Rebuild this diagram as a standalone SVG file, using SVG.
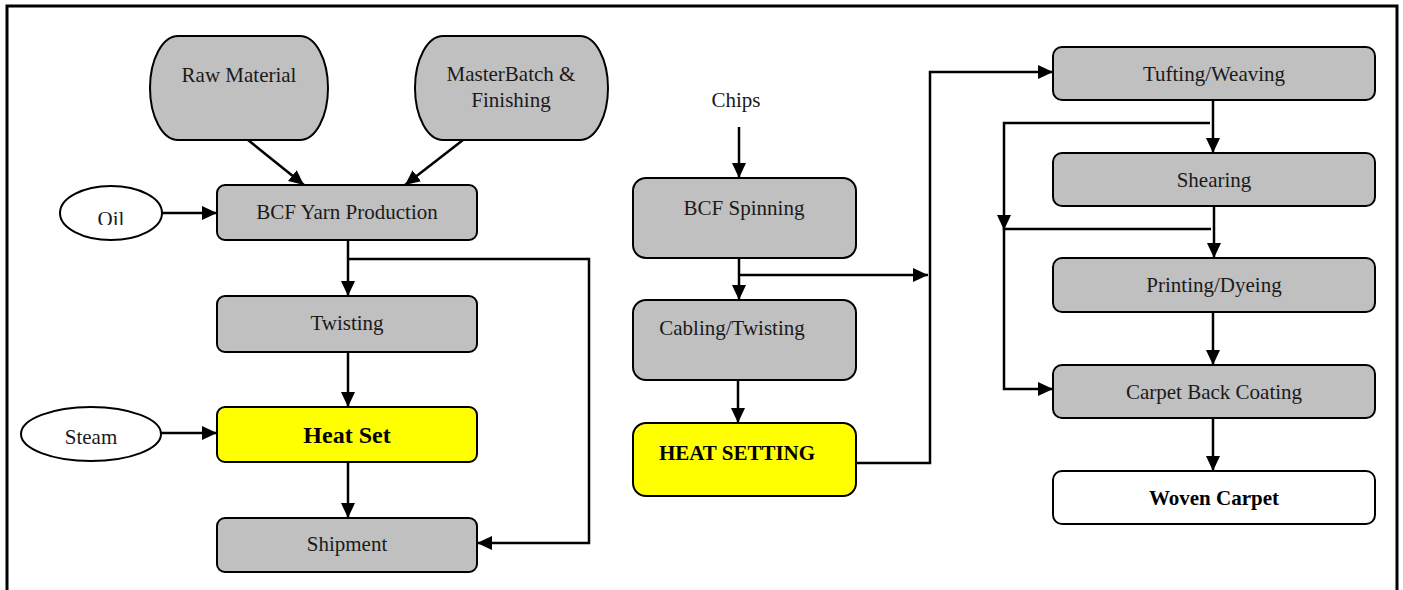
<svg xmlns="http://www.w3.org/2000/svg" width="1403" height="590" viewBox="0 0 1403 590">
<style>
.box{fill:#c0c0c0;stroke:#000;stroke-width:2}
.hl{fill:#ffff00;stroke:#000;stroke-width:2}
.wh{fill:#fff;stroke:#000;stroke-width:2}
.t{font-family:"Liberation Serif","Times New Roman",serif;font-size:21px;fill:#1a1a1a;text-anchor:middle}
.b{font-weight:bold;fill:#000}
.c{fill:none;stroke:#000;stroke-width:2.5}
</style>
<defs>
<marker id="a" markerUnits="userSpaceOnUse" markerWidth="15" markerHeight="14" refX="15" refY="7" orient="auto">
<path d="M0,0 L15,7 L0,14 z" fill="#000"/>
</marker>
<clipPath id="oilclip"><rect x="60" y="186" width="104" height="39"/></clipPath>
</defs>
<rect width="1403" height="590" fill="#fff"/>
<path d="M7,592 V6 H1397 V592" fill="none" stroke="#000" stroke-width="3"/>

<g id="connectors">
<path class="c" d="M248,140 L304,185" marker-end="url(#a)"/>
<path class="c" d="M463,140 L405,185" marker-end="url(#a)"/>
<path class="c" d="M162,213 H217" marker-end="url(#a)"/>
<path class="c" d="M348,240 V296" marker-end="url(#a)"/>
<path class="c" d="M348,259 H589 V543 H477" marker-end="url(#a)"/>
<path class="c" d="M348,352 V407" marker-end="url(#a)"/>
<path class="c" d="M161,433 H217" marker-end="url(#a)"/>
<path class="c" d="M348,462 V518" marker-end="url(#a)"/>
<path class="c" d="M739,127 V178" marker-end="url(#a)"/>
<path class="c" d="M739,258 V300" marker-end="url(#a)"/>
<path class="c" d="M739,275 H928" marker-end="url(#a)"/>
<path class="c" d="M738,380 V423" marker-end="url(#a)"/>
<path class="c" d="M856,463 H930 V72 H1053" marker-end="url(#a)"/>
<path class="c" d="M1213,100 V153" marker-end="url(#a)"/>
<path class="c" d="M1210,123 H1004 V230" marker-end="url(#a)"/>
<path class="c" d="M1214,206 V258" marker-end="url(#a)"/>
<path class="c" d="M1211,229 H1004 V389 H1053" marker-end="url(#a)"/>
<path class="c" d="M1213,312 V365" marker-end="url(#a)"/>
<path class="c" d="M1213,418 V471" marker-end="url(#a)"/>
</g>

<g id="raw-material">
<rect class="box" x="150" y="36" width="178" height="104" rx="28" ry="52"/>
<text class="t" x="239" y="82">Raw Material</text>
</g>
<g id="masterbatch">
<rect class="box" x="415" y="36" width="193" height="104" rx="28" ry="52"/>
<text class="t" x="511" y="81">MasterBatch &amp;</text>
<text class="t" x="511" y="107">Finishing</text>
</g>
<g id="oil">
<ellipse cx="111" cy="213" rx="51" ry="27" fill="#fff" stroke="#000" stroke-width="2"/>
<text class="t" x="111" y="226" clip-path="url(#oilclip)">Oil</text>
</g>
<g id="bcf-yarn">
<rect class="box" x="217" y="185" width="260" height="55" rx="8"/>
<text class="t" x="347" y="219">BCF Yarn Production</text>
</g>
<g id="twisting">
<rect class="box" x="217" y="296" width="260" height="56" rx="8"/>
<text class="t" x="347" y="330">Twisting</text>
</g>
<g id="steam">
<ellipse cx="91" cy="434" rx="70" ry="27" fill="#fff" stroke="#000" stroke-width="2"/>
<text class="t" x="91" y="444">Steam</text>
</g>
<g id="heat-set">
<rect class="hl" x="217" y="407" width="260" height="55" rx="8"/>
<text class="t b" x="347" y="443" style="font-size:24px">Heat Set</text>
</g>
<g id="shipment">
<rect class="box" x="217" y="518" width="260" height="54" rx="8"/>
<text class="t" x="347" y="551">Shipment</text>
</g>

<g id="chips">
<text class="t" x="736" y="107">Chips</text>
</g>
<g id="bcf-spinning">
<rect class="box" x="633" y="178" width="223" height="80" rx="13"/>
<text class="t" x="744" y="215">BCF Spinning</text>
</g>
<g id="cabling">
<rect class="box" x="633" y="300" width="223" height="80" rx="13"/>
<text class="t" x="732" y="335">Cabling/Twisting</text>
</g>
<g id="heat-setting">
<rect class="hl" x="633" y="423" width="223" height="73" rx="13"/>
<text class="t b" x="737" y="460">HEAT SETTING</text>
</g>

<g id="tufting">
<rect class="box" x="1053" y="47" width="322" height="53" rx="9"/>
<text class="t" x="1214" y="81">Tufting/Weaving</text>
</g>
<g id="shearing">
<rect class="box" x="1053" y="153" width="322" height="53" rx="9"/>
<text class="t" x="1214" y="187">Shearing</text>
</g>
<g id="printing">
<rect class="box" x="1053" y="258" width="322" height="54" rx="9"/>
<text class="t" x="1214" y="292">Printing/Dyeing</text>
</g>
<g id="back-coating">
<rect class="box" x="1053" y="365" width="322" height="53" rx="9"/>
<text class="t" x="1214" y="399">Carpet Back Coating</text>
</g>
<g id="woven-carpet">
<rect class="wh" x="1053" y="471" width="322" height="53" rx="9"/>
<text class="t b" x="1214" y="505">Woven Carpet</text>
</g>
</svg>
